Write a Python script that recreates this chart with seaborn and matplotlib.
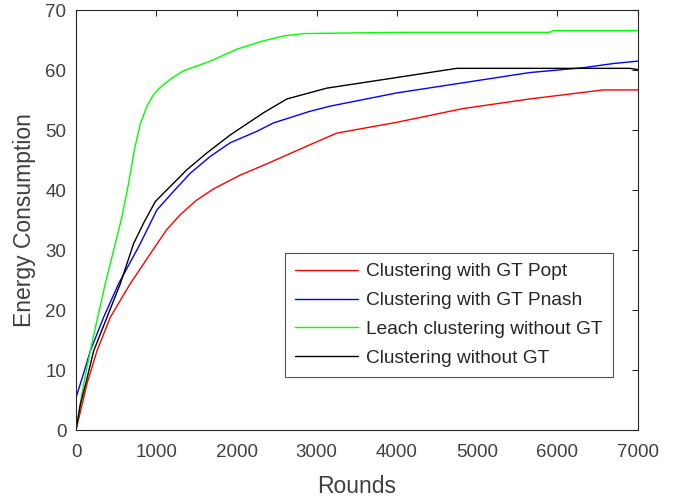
import numpy as np
import pandas as pd
import matplotlib
matplotlib.use("Agg")
import matplotlib.pyplot as plt
import seaborn as sns

# values
popt_x = [0, 136, 261, 427, 676, 967, 1130, 1299, 1500, 1714, 2046, 2399, 2905, 3249, 3996, 4826, 5656, 6568, 7000]
popt_y = [0, 7.7, 13.2, 18.8, 24.4, 30.2, 33.4, 35.9, 38.3, 40.2, 42.5, 44.5, 47.5, 49.5, 51.3, 53.6, 55.2, 56.7, 56.7]

pnash_x = [0, 116, 178, 344, 531, 790, 1008, 1216, 1423, 1672, 1922, 2254, 2461, 2905, 3167, 3996, 4826, 5656, 6320, 6693, 7000]
pnash_y = [5.4, 10.4, 13.2, 18.8, 24.4, 30.8, 36.7, 39.8, 42.8, 45.6, 47.9, 49.8, 51.2, 53.1, 54.0, 56.2, 57.9, 59.6, 60.4, 61.1, 61.5]

leach_x = [0, 95, 178, 270, 365, 469, 573, 656, 727, 800, 884, 960, 1040, 1175, 1341, 1673, 2005, 2337, 2586, 2835, 4000, 5900, 5950, 7000]
leach_y = [0, 7.7, 13.2, 18.8, 24.4, 30.0, 35.6, 41.2, 46.7, 51.0, 54.0, 55.8, 57.0, 58.5, 59.9, 61.5, 63.5, 64.9, 65.7, 66.1, 66.3, 66.3, 66.6, 66.6]

nogt_x = [0, 54, 120, 220, 386, 552, 718, 842, 988, 1174, 1382, 1631, 1922, 2337, 2628, 3125, 3913, 4745, 6900, 7000]
nogt_y = [0, 4.3, 7.7, 13.2, 18.8, 24.4, 31.1, 34.5, 38.1, 40.6, 43.4, 46.2, 49.2, 52.9, 55.2, 57.0, 58.6, 60.3, 60.3, 60.1]

labels = ['Clustering with GT Popt', 'Clustering with GT Pnash',
          'Leach clustering without GT', 'Clustering without GT']
colors = ['#ff0000', '#0000ff', '#00ff00', '#000000']

frames = []
for lab, xs, ys in zip(labels, [popt_x, pnash_x, leach_x, nogt_x], [popt_y, pnash_y, leach_y, nogt_y]):
    frames.append(pd.DataFrame({'Rounds': xs, 'Energy': ys, 'series': lab}))
df = pd.concat(frames, ignore_index=True)

sns.set_style('white')
plt.rcParams['font.family'] = ['Liberation Sans', 'DejaVu Sans']
ink = '#262626'

fig = plt.figure(figsize=(6.85, 5.01), dpi=100)
ax = fig.add_axes([0.111, 0.1417, 0.82, 0.838])

sns.lineplot(data=df, x='Rounds', y='Energy', hue='series', hue_order=labels,
             palette=dict(zip(labels, colors)), sort=False, estimator=None,
             linewidth=1.0, ax=ax)

ax.set_xlim(0, 7000)
ax.set_ylim(0, 70)
ax.set_xticks(np.arange(0, 7001, 1000))
ax.set_yticks(np.arange(0, 71, 10))
ax.tick_params(direction='in', length=4, width=0.8, colors=ink, labelcolor='#404040',
               labelsize=13.5, top=True, right=True)
ax.tick_params(axis='x', pad=10)
ax.tick_params(axis='y', pad=7)
for sp in ax.spines.values():
    sp.set_visible(True)
    sp.set_color(ink)
    sp.set_linewidth(0.8)

ax.set_xlabel('Rounds', fontsize=16.5, color='#404040', labelpad=10)
ax.set_ylabel('Energy Consumption', fontsize=16.5, color='#404040', labelpad=7)

leg = ax.legend(loc='lower left', bbox_to_anchor=(0.372, 0.127), borderaxespad=0,
                fontsize=13.8, frameon=True, fancybox=False, handlelength=3.3,
                handletextpad=0.45, labelspacing=0.6, borderpad=0.5)
leg.get_frame().set_edgecolor(ink)
leg.get_frame().set_linewidth(0.8)
for t in leg.get_texts():
    t.set_color('#262626')

fig.savefig('out.png', dpi=100)
